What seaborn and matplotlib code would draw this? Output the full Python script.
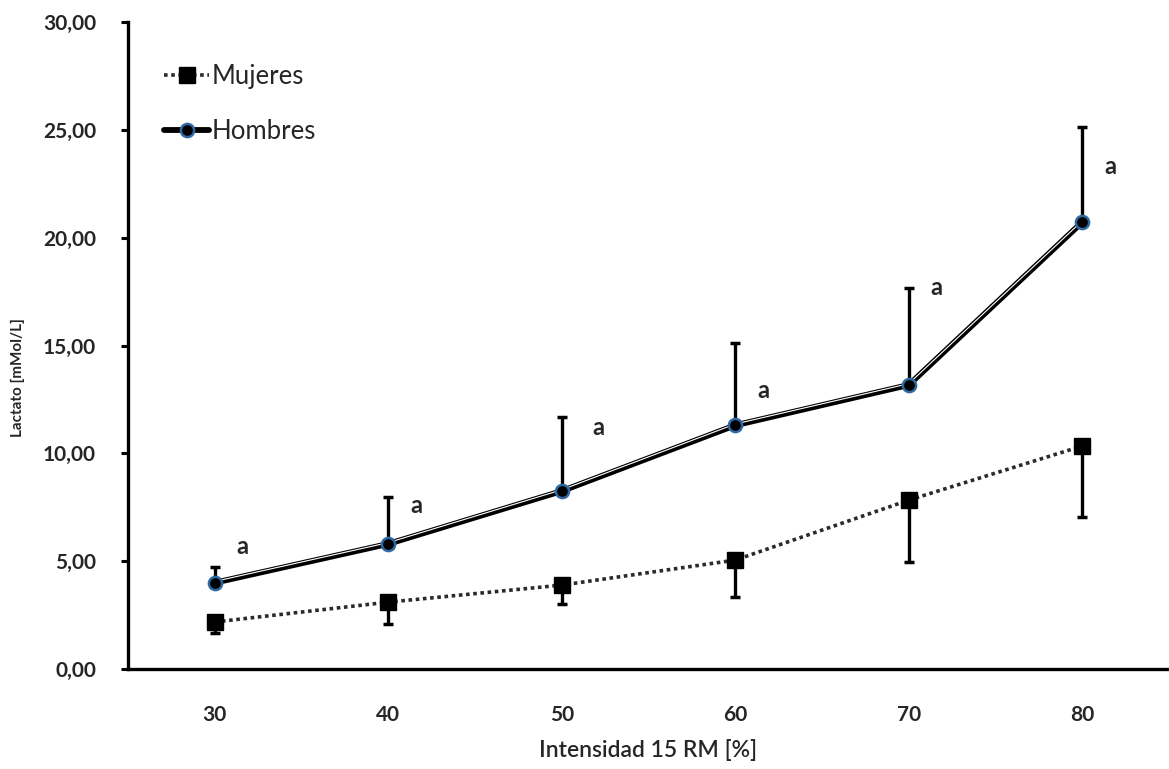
import numpy as np
import pandas as pd
import matplotlib
matplotlib.use("Agg")
import matplotlib.pyplot as plt
import matplotlib.transforms as mtransforms
from matplotlib.lines import Line2D
import seaborn as sns

# datos
intensidad = ["30", "40", "50", "60", "70", "80"]
hombres = [4.00, 5.80, 8.25, 11.30, 13.17, 20.72]
hombres_sd = [0.73, 2.17, 3.43, 3.80, 4.49, 4.41]
mujeres = [2.18, 3.10, 3.89, 5.05, 7.83, 10.34]
mujeres_sd = [0.51, 1.01, 0.88, 1.71, 2.87, 3.29]
signif = ["a", "a", "a", "a", "a", "a"]
signif_y = [5.7, 7.6, 11.2, 12.9, 17.7, 23.3]

pos = np.arange(len(intensidad))
df = pd.DataFrame({"pos": pos, "hombres": hombres, "mujeres": mujeres})

sns.set_theme(style="white")
plt.rcParams["font.family"] = ["Lato", "DejaVu Sans"]

fig = plt.figure(figsize=(11.69, 7.69), dpi=100)
ax = fig.add_axes([128 / 1169, 1 - 669 / 769, 1 - 128 / 1169, (669 - 22) / 769])

blue = "#2f69a3"

# Mujeres: linea punteada + barras hacia abajo
sns.lineplot(data=df, x="pos", y="mujeres", ax=ax, color="#2a2a2a",
             linestyle=(0, (1.0, 1.0)), linewidth=2.6, zorder=2)
ax.errorbar(pos, mujeres, yerr=[mujeres_sd, [0] * 6], fmt="none",
            ecolor="black", elinewidth=2.4, capsize=3.5, capthick=2.5, zorder=3)
ax.plot(pos, mujeres, linestyle="none", marker="s", markersize=11,
        markerfacecolor="black", markeredgecolor="black", zorder=5)

# Hombres: linea doble + barras hacia arriba
sns.lineplot(data=df, x="pos", y="hombres", ax=ax, color="black",
             linewidth=4.2, zorder=2)
off = mtransforms.offset_copy(ax.transData, fig=fig, x=0, y=1.3, units="dots")
ax.plot(pos, hombres, color="white", linewidth=0.8, transform=off, zorder=2.5)
ax.errorbar(pos, hombres, yerr=[[0] * 6, hombres_sd], fmt="none",
            ecolor="black", elinewidth=2.4, capsize=3.5, capthick=2.5, zorder=3)
ax.plot(pos, hombres, linestyle="none", marker="o", markersize=9.5,
        markerfacecolor="black", markeredgecolor=blue, markeredgewidth=1.8, zorder=5)

# letras de significancia
for i, (s, y) in enumerate(zip(signif, signif_y)):
    dx = 0.21 if i == 2 else 0.16
    ax.text(i + dx, y, s, fontsize=17, fontweight="bold", ha="center", va="center")

ax.set_xlim(-0.5, 5.48)
ax.set_ylim(0, 30)

ax.set_xticks(pos)
ax.set_xticklabels(intensidad, fontsize=15, fontweight="bold")
ax.set_xticks(np.arange(-0.5, 5.6, 1.0), minor=True)
ax.tick_params(axis="x", which="major", length=0, pad=26)
ax.tick_params(axis="x", which="minor", direction="out", length=7, width=2.2, color="black")

yt = np.arange(0, 31, 5)
ax.set_yticks(yt)
ax.set_yticklabels([f"{v:.2f}".replace(".", ",") for v in yt], fontsize=15, fontweight="bold")
ax.tick_params(axis="y", direction="out", length=5, width=2.2, color="black", pad=18, left=True)

for s in ["top", "right"]:
    ax.spines[s].set_visible(False)
for s in ["left", "bottom"]:
    ax.spines[s].set_color("black")
    ax.spines[s].set_linewidth(2.4)

ax.set_xlabel("Intensidad 15 RM [%]", fontsize=16.5, fontweight="semibold", labelpad=10)
ax.set_ylabel("")
ax.grid(False)
fig.text(18 / 1169, 1 - 378 / 769, "Lactato [mMol/L]", rotation=90,
         fontsize=11, fontweight="bold", ha="center", va="center")

handles = [
    Line2D([], [], color="#2a2a2a", linestyle=(0, (1.0, 1.0)), linewidth=2.6,
           marker="s", markersize=11, markerfacecolor="black", markeredgecolor="black"),
    Line2D([], [], color="black", linewidth=4.2, marker="o", markersize=9.5,
           markerfacecolor="black", markeredgecolor=blue, markeredgewidth=1.8),
]
ax.legend(handles, ["Mujeres", "Hombres"], loc="upper left",
          bbox_to_anchor=(0.035, 0.935), frameon=False, fontsize=18.5,
          handlelength=1.75, handletextpad=0.1, labelspacing=1.17, borderpad=0,
          borderaxespad=0)

fig.savefig("out.png", dpi=100)
